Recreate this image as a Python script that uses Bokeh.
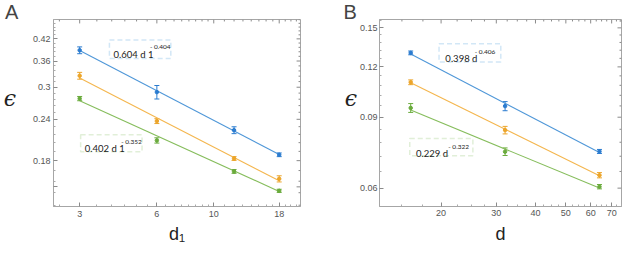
import math
import numpy as np
from bokeh.plotting import figure
from bokeh.layouts import row
from bokeh.models import (FixedTicker, Whisker, TeeHead, ColumnDataSource,
                          Label, BoxAnnotation, Range1d)
from bokeh.embed import file_html
from bokeh.resources import INLINE

# ---------------- data ----------------
# Panel A
d1 = [3, 6, 12, 18]
A_blue = [0.388, 0.290, 0.2225, 0.1875]
A_blue_err = [0.0092, 0.0136, 0.0053, 0.0024]
A_orange = [0.325, 0.237, 0.1827, 0.1586]
A_orange_err = [0.0077, 0.0040, 0.0024, 0.0034]
A_green = [0.2772, 0.2072, 0.1670, 0.1459]
A_green_err = [0.0041, 0.0038, 0.0022, 0.0016]
A_blue_fit = (0.604, -0.404)
A_green_fit = (0.402, -0.352)
A_xticks = [3, 6, 10, 18]
A_xlabels = ["3", "6", "10", "18"]
A_yticks = [0.42, 0.36, 0.3, 0.24, 0.18, 0.15]
A_ylabels = ["0.42", "0.36", "0.3", "0.24", "0.18", ""]

# Panel B
dB = [16, 32, 64]
B_blue = [0.1300, 0.0959, 0.0740]
B_blue_err = [0.0014, 0.0025, 0.00085]
B_orange = [0.1099, 0.0836, 0.0646]
B_orange_err = [0.0015, 0.0018, 0.00097]
B_green = [0.0949, 0.0739, 0.0605]
B_green_err = [0.0024, 0.0016, 0.00075]
B_blue_fit = (0.398, -0.406)
B_green_fit = (0.229, -0.322)
B_xticks = [20, 30, 40, 50, 60, 70]
B_xlabels = ["20", "30", "40", "50", "60", "70"]
B_yticks = [0.15, 0.12, 0.09, 0.06]
B_ylabels = ["0.15", "0.12", "0.09", "0.06"]

# ---------------- style ----------------
BLUE, BLUE_L = "#2b7cd0", "#4f97d8"
ORANGE, ORANGE_L = "#eca52a", "#f4b64e"
GREEN, GREEN_L = "#6aab3c", "#86bd5c"
FRAME = "#a6a6a6"
TICKC = "#8a8a8a"
LABC = "#555555"
SX, SY = 0.975, 246 / 262  # reference px -> my px

# reference-pixel -> data helpers (log axes)
def A_x(px):
    return 10 ** (math.log10(3) + (px - 77.3) / 267.3)

def A_y(py):
    return 10 ** (math.log10(0.42) - (py - 41.0) / 358.7)

def B_x(px):
    return 10 ** (math.log10(32) + (px - 517.7) / 321.3)

def B_y(py):
    return 10 ** (math.log10(0.15) - (py - 29.0) / 434.0)


def frange(a, b, s):
    out = []
    v = a
    while v <= b + 1e-9:
        out.append(round(v, 6))
        v += s
    return out


def overrides(ticks, labels):
    o = {}
    for t, l in zip(ticks, labels):
        o[float(t)] = l
        o[str(t)] = l
    return o


def style_axis(ax, ticks, minor, labels, standoff, title, title_size, title_standoff, horizontal=False):
    ax.ticker = FixedTicker(ticks=ticks, minor_ticks=minor)
    ax.axis_line_color = FRAME
    ax.major_tick_line_color = TICKC
    ax.minor_tick_line_color = "#aaaaaa"
    ax.major_tick_in = 4
    ax.major_tick_out = 0
    ax.minor_tick_in = 2
    ax.minor_tick_out = 0
    ax.major_label_overrides = overrides(ticks, labels)
    ax.major_label_text_font = "Liberation Sans"
    ax.major_label_text_font_size = "9px"
    ax.major_label_text_color = LABC
    ax.major_label_standoff = standoff
    ax.axis_label = title
    if horizontal:
        ax.axis_label_text_font = "DejaVu Serif"
        ax.axis_label_text_font_style = "italic"
        ax.axis_label_orientation = "horizontal"
    else:
        ax.axis_label_text_font = "Liberation Sans"
        ax.axis_label_text_font_style = "normal"
    ax.axis_label_text_font_size = title_size
    ax.axis_label_text_color = "#222222"
    ax.axis_label_standoff = title_standoff


def mirror_ticks(p, fx, fy, frame, xt, xm, yt, ym):
    # frame = (left, right, top, bottom) in reference px
    L, R, T, B = frame
    xs0, xs1, ys0, ys1 = [], [], [], []
    for t, ln in [(t, 4) for t in xt] + [(t, 2) for t in xm]:
        xs0.append(t); xs1.append(t); ys0.append(fy(T)); ys1.append(fy(T + ln / SY))
    p.segment(xs0, ys0, xs1, ys1, line_color=TICKC, line_width=1)
    xs0, xs1, ys0, ys1 = [], [], [], []
    for t, ln in [(t, 4) for t in yt] + [(t, 2) for t in ym]:
        ys0.append(t); ys1.append(t); xs0.append(fx(R)); xs1.append(fx(R - ln / SX))
    p.segment(xs0, ys0, xs1, ys1, line_color=TICKC, line_width=1)


def make_fig(xr, yr, mb, letter, letter_offset):
    p = figure(width=312, height=246, x_axis_type="log", y_axis_type="log",
               x_range=Range1d(*xr), y_range=Range1d(*yr),
               output_backend="svg", toolbar_location=None,
               min_border_left=mb[0], min_border_right=mb[1],
               min_border_top=mb[2], min_border_bottom=mb[3])
    p.grid.visible = False
    p.outline_line_color = FRAME
    p.background_fill_color = "white"
    p.border_fill_color = "white"
    p.title.text = letter
    p.title.align = "left"
    p.title.offset = letter_offset
    p.title.standoff = -7
    p.title.text_font = "Liberation Sans"
    p.title.text_font_size = "20px"
    p.title.text_font_style = "normal"
    p.title.text_color = "#444444"
    p.title.text_line_height = 0.8
    return p


def add_series(p, x, y, err, c_pt, c_line, coef, expo):
    src = ColumnDataSource(dict(x=x, y=y,
                                lo=[a - e for a, e in zip(y, err)],
                                hi=[a + e for a, e in zip(y, err)]))
    xs = [x[0], x[-1]]
    ys = [coef * v ** expo for v in xs]
    p.line(xs, ys, line_color=c_line, line_width=1.1)
    w = Whisker(source=src, base="x", upper="hi", lower="lo", line_color=c_pt, line_width=1,
                upper_head=TeeHead(size=5, line_color=c_pt, line_width=1),
                lower_head=TeeHead(size=5, line_color=c_pt, line_width=1))
    p.add_layout(w)
    p.scatter("x", "y", source=src, size=3.5, color=c_pt)


def fit_pow(x, y):
    b, a = np.polyfit(np.log(x), np.log(y), 1)
    return float(np.exp(a)), float(b)


def txt(p, x, y, s, size, font="Lato", color="#222222", align="left"):
    p.add_layout(Label(x=x, y=y, text=s, text_font=font, text_font_size=size,
                       text_color=color, text_align=align, text_baseline="alphabetic"))


EPS = "\u03f5\n\u00a0"

# ---------------- Panel A ----------------
A_frame = (50, 307.5, 20, 222.7)
pa = make_fig((A_x(A_frame[0]), A_x(A_frame[1])), (A_y(A_frame[3]), A_y(A_frame[2])),
              (49, 12, 19, 37), "A", -48.5)
A_xminor = [2.5, 3.5, 4, 4.5, 5, 5.5, 6.5, 7, 7.5, 8, 8.5, 9, 9.5] + list(range(11, 18)) + [19, 20, 21]
A_yminor = [v for v in frange(0.132, 0.48, 0.012) if all(abs(v - t) > 1e-4 for t in A_yticks)]
style_axis(pa.xaxis[0], A_xticks, A_xminor, A_xlabels, 4, "d\u2081", "18px", 4)
style_axis(pa.yaxis[0], A_yticks, A_yminor, A_ylabels, 3, EPS, "22px", 14, horizontal=True)
mirror_ticks(pa, A_x, A_y, A_frame, A_xticks, A_xminor, A_yticks, A_yminor)

add_series(pa, d1, A_blue, A_blue_err, BLUE, BLUE_L, *A_blue_fit)
add_series(pa, d1, A_orange, A_orange_err, ORANGE, ORANGE_L, *fit_pow(d1, A_orange))
add_series(pa, d1, A_green, A_green_err, GREEN, GREEN_L, *A_green_fit)

pa.add_layout(BoxAnnotation(left=A_x(108.3), right=A_x(172.3), top=A_y(42.3), bottom=A_y(62.3),
                            fill_alpha=0, line_color="#6aaee2", line_dash="5 3", line_width=1.5))
txt(pa, A_x(112.5), A_y(57.5), "0.604 d 1", "9.5px")
txt(pa, A_x(150.5), A_y(49.5), "- 0.404", "6.5px")
pa.add_layout(BoxAnnotation(left=A_x(78.3), right=A_x(142.3), top=A_y(145), bottom=A_y(163.3),
                            fill_alpha=0, line_color="#9dcb7e", line_dash="5 3", line_width=1.5))
txt(pa, A_x(82.5), A_y(159.5), "0.402 d 1", "9.5px")
txt(pa, A_x(120.5), A_y(152.5), "- 0.352", "6.5px")

# ---------------- Panel B ----------------
B_frame = (389, 637, 20, 221.5)
pb = make_fig((B_x(B_frame[0]), B_x(B_frame[1])), (B_y(B_frame[3]), B_y(B_frame[2])),
              (67, 3, 19, 38), "B", -36)
B_xminor = [v for v in frange(12.5, 75, 2.5) if all(abs(v - t) > 1e-6 for t in B_xticks)]
B_yminor = [v for v in frange(0.054, 0.16, 0.006) if all(abs(v - t) > 1e-4 for t in B_yticks)]
style_axis(pb.xaxis[0], B_xticks, B_xminor, B_xlabels, 3, "d", "18px", 5)
style_axis(pb.yaxis[0], B_yticks, B_yminor, B_ylabels, 2, EPS, "22px", 0, horizontal=True)
mirror_ticks(pb, B_x, B_y, B_frame, B_xticks, B_xminor, B_yticks, B_yminor)

add_series(pb, dB, B_blue, B_blue_err, BLUE, BLUE_L, *B_blue_fit)
add_series(pb, dB, B_orange, B_orange_err, ORANGE, ORANGE_L, *fit_pow(dB, B_orange))
add_series(pb, dB, B_green, B_green_err, GREEN, GREEN_L, *B_green_fit)

pb.add_layout(BoxAnnotation(left=B_x(450), right=B_x(513.3), top=B_y(46), bottom=B_y(65.7),
                            fill_alpha=0, line_color="#6aaee2", line_dash="5 3", line_width=1.5))
txt(pb, B_x(456.5), B_y(62.5), "0.398 d", "9.5px")
txt(pb, B_x(486.5), B_y(54.5), "- 0.406", "6.5px")
pb.add_layout(BoxAnnotation(left=B_x(420), right=B_x(484.7), top=B_y(148.3), bottom=B_y(166.7),
                            fill_alpha=0, line_color="#9dcb7e", line_dash="5 3", line_width=1.5))
txt(pb, B_x(426.5), B_y(164.5), "0.229 d", "9.5px")
txt(pb, B_x(459.5), B_y(157), "- 0.322", "6.5px")

layout = row(pa, pb)
open("out.html", "w").write(file_html(layout, INLINE))
